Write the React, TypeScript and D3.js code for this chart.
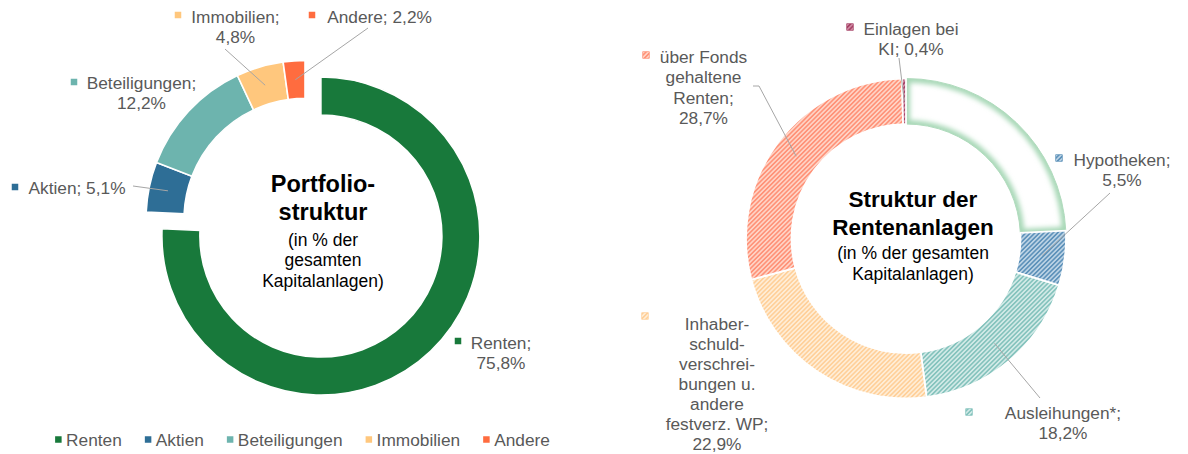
import React, { useMemo } from 'react';
import * as d3 from 'd3';

// ---------- DATA ----------
const portfolioCategories = ['Renten', 'Aktien', 'Beteiligungen', 'Immobilien', 'Andere'];
const portfolioValues = [75.8, 5.1, 12.2, 4.8, 2.2];
const portfolioColors = ['#18793B', '#2E6E96', '#6DB4AE', '#FFC77D', '#FF6C3F'];
const portfolioLabelLines = [['Renten;'], ['Aktien;'], ['Beteiligungen;'], ['Immobilien;'], ['Andere;']];
const portfolioPctInline = [false, true, false, false, true];

const rentenCategories = ['Hypotheken', 'Ausleihungen*', 'Inhaberschuldverschreibungen u. andere festverz. WP', 'über Fonds gehaltene Renten', 'Einlagen bei KI'];
const rentenValues = [5.5, 18.2, 22.9, 28.7, 0.4];
const rentenLine = ['#4480AE', '#6FB8B2', '#FFC889', '#FF8062', '#9B2D55'];
const rentenBg = ['#BCD3E5', '#D2EAE7', '#FFEDD6', '#FFD3C5', '#CF8AA2'];
const rentenLabelLines = [
  ['Hypotheken;'],
  ['Ausleihungen*;'],
  ['Inhaber-', 'schuld-', 'verschrei-', 'bungen u.', 'andere', 'festverz. WP;'],
  ['über Fonds', 'gehaltene', 'Renten;'],
  ['Einlagen bei', 'KI;'],
];
const rentenPctInline = [false, false, false, false, true];

const legendItems = portfolioCategories;

// ---------- LAYOUT ----------
const W = 1188, H = 454;
const FONT = '"Liberation Sans", Arial, Helvetica, sans-serif';
const LS = 17.3;
const LH = 20.3;
const GRAY = '#595959';
const LEADER = '#A6A6A6';
const MK = 6.5;

const LEFT = { cx: 305, cy: 219.4, r: 159, ir: 121, explode: [23, 0, 0, 0, 0] };
const RIGHT = { cx: 906, cy: 238.5, r: 160, ir: 114.5 };

// label layout: text center x, first line center y, line height, marker center, leader start points
const leftLabelLayout = [
  { x: 501, y: 343, lh: LH, m: [458, 341], lead: null },
  { x: 77, y: 188, lh: LH, m: [15, 187], lead: [[133, 186]] },
  { x: 141.5, y: 83, lh: LH, m: [74, 82], lead: null },
  { x: 235.5, y: 17, lh: LH, m: [178, 15], lead: [[225, 49]] },
  { x: 379.5, y: 17, lh: LH, m: [312, 15], lead: [[368, 28]] },
];
const rightLabelLayout = [
  { x: 1122, y: 160, lh: LH, m: [1059, 158], lead: [[1110, 193]] },
  { x: 1063, y: 413, lh: LH, m: [969, 412], lead: [[1040, 398]] },
  { x: 717, y: 324, lh: 20, m: [645, 316], lead: null },
  { x: 703.5, y: 57, lh: LH, m: [646, 55], lead: [[753, 86], [759, 86]] },
  { x: 911, y: 29, lh: LH, m: [850, 27], lead: [[899, 58]] },
];

const fmtPct = (v: number) => d3.format('.1f')(v).replace('.', ',') + '%';

function measure(text: string, size: number) {
  if (typeof document === 'undefined') return text.length * size * 0.5;
  const c = (measure as any)._c || ((measure as any)._c = document.createElement('canvas'));
  const ctx = c.getContext('2d');
  ctx.font = `${size}px "Liberation Sans", Arial, sans-serif`;
  return ctx.measureText(text).width;
}

function buildLines(nameLines: string[], inline: boolean, v: number) {
  const pct = fmtPct(v);
  if (inline) {
    const l = nameLines.slice();
    l[l.length - 1] = l[l.length - 1] + ' ' + pct;
    return l;
  }
  return [...nameLines, pct];
}

function Label({ lines, x, y, lh }: { lines: string[]; x: number; y: number; lh: number }) {
  return (
    <text x={x} y={y} textAnchor="middle" fontFamily={FONT} fontSize={LS} fill={GRAY}>
      {lines.map((t, i) => (
        <tspan key={i} x={x} y={y + i * lh} dy="0.35em">{t}</tspan>
      ))}
    </text>
  );
}

export default function App() {
  const leftPie = useMemo(() => d3.pie<number>().sort(null).value((d) => d)(portfolioValues), []);
  const leftArc = d3.arc<any>().innerRadius(LEFT.ir).outerRadius(LEFT.r);

  const restValue = +(100 - portfolioValues[0]).toFixed(1);
  const rightData = [restValue, ...rentenValues];
  const rightPie = useMemo(() => d3.pie<number>().sort(null).value((d) => d)(rightData), []);
  const rightArc = d3.arc<any>().innerRadius(RIGHT.ir).outerRadius(RIGHT.r);

  const offset = (a: any, e: number) => {
    const mid = (a.startAngle + a.endAngle) / 2;
    return [Math.sin(mid) * e, -Math.cos(mid) * e];
  };

  // legend layout
  const legendGapMk = 4.5, legendGapItem = 23;
  const legendWidths = legendItems.map((t) => measure(t, LS));
  const legendTotal = legendWidths.reduce((s, w) => s + MK + legendGapMk + w, 0) + legendGapItem * (legendItems.length - 1);
  let lx = 302.5 - legendTotal / 2;
  const legendPos = legendWidths.map((w) => {
    const p = lx;
    lx += MK + legendGapMk + w + legendGapItem;
    return p;
  });

  const restArcPath = rightArc(rightPie[0]) as string;

  return (
    <svg width={W} height={H} style={{ position: 'absolute', left: 0, top: 0, background: '#fff' }}>
      <defs>
        {rentenValues.map((_, i) => (
          <pattern key={i} id={`hatch${i}`} width={3.2} height={3.2} patternUnits="userSpaceOnUse" patternTransform="rotate(45)">
            <rect width={3.2} height={3.2} fill={rentenBg[i]} />
            <line x1={0.8} y1={0} x2={0.8} y2={3.2} stroke={rentenLine[i]} strokeWidth={1.25} />
          </pattern>
        ))}
        <clipPath id="restClip">
          <path d={restArcPath} transform={`translate(${RIGHT.cx},${RIGHT.cy})`} />
        </clipPath>
        <filter id="glowBlur" x="-20%" y="-20%" width="140%" height="140%">
          <feGaussianBlur stdDeviation={2.6} />
        </filter>
      </defs>

      {/* ---------- LEFT DONUT ---------- */}
      <g>
        {leftPie.map((a, i) => {
          const [dx, dy] = offset(a, LEFT.explode[i]);
          return (
            <path
              key={i}
              d={leftArc(a) as string}
              transform={`translate(${LEFT.cx + dx},${LEFT.cy + dy})`}
              fill={portfolioColors[i]}
              stroke="#fff"
              strokeWidth={1.6}
            />
          );
        })}
        {leftPie.map((a, i) => {
          const L = leftLabelLayout[i];
          if (!L.lead) return null;
          const [dx, dy] = offset(a, LEFT.explode[i]);
          const c = leftArc.centroid(a);
          const pts = [...L.lead, [LEFT.cx + dx + c[0], LEFT.cy + dy + c[1]]];
          return <polyline key={i} points={pts.map((p) => p.join(',')).join(' ')} fill="none" stroke={LEADER} strokeWidth={1} />;
        })}
        {leftPie.map((a, i) => {
          const L = leftLabelLayout[i];
          const lines = buildLines(portfolioLabelLines[i], portfolioPctInline[i], portfolioValues[i]);
          return (
            <g key={i}>
              <rect x={L.m[0] - MK / 2} y={L.m[1] - MK / 2} width={MK} height={MK} fill={portfolioColors[i]} />
              <Label lines={lines} x={L.x} y={L.y} lh={L.lh} />
            </g>
          );
        })}
        <text textAnchor="middle" fontFamily={FONT} fill="#000">
          <tspan x={323} y={183.5} dy="0.35em" fontSize={23.5} fontWeight="bold">Portfolio-</tspan>
          <tspan x={323} y={211.5} dy="0.35em" fontSize={23.5} fontWeight="bold">struktur</tspan>
          <tspan x={323} y={240} dy="0.35em" fontSize={17.5}>(in % der</tspan>
          <tspan x={323} y={260} dy="0.35em" fontSize={17.5}>gesamten</tspan>
          <tspan x={323} y={281} dy="0.35em" fontSize={17.5}>Kapitalanlagen)</tspan>
        </text>
      </g>

      {/* ---------- LEGEND ---------- */}
      <g>
        {legendItems.map((t, i) => (
          <g key={t}>
            <rect x={legendPos[i]} y={440 - MK / 2 - 0.5} width={MK} height={MK} fill={portfolioColors[i]} />
            <text x={legendPos[i] + MK + legendGapMk} y={440} dy="0.35em" fontFamily={FONT} fontSize={LS} fill={GRAY}>{t}</text>
          </g>
        ))}
      </g>

      {/* ---------- RIGHT DONUT ---------- */}
      <g>
        {/* rest (non-Renten) segment: white with green inner glow */}
        <path d={restArcPath} transform={`translate(${RIGHT.cx},${RIGHT.cy})`} fill="#fff" />
        <g clipPath="url(#restClip)">
          <path d={restArcPath} transform={`translate(${RIGHT.cx},${RIGHT.cy})`} fill="none" stroke="#A6D7B5" strokeWidth={8} filter="url(#glowBlur)" />
        </g>
        <path d={restArcPath} transform={`translate(${RIGHT.cx},${RIGHT.cy})`} fill="none" stroke="#B0DBBD" strokeWidth={1} />

        {rightPie.slice(1).map((a, i) => (
          <path
            key={i}
            d={rightArc(a) as string}
            transform={`translate(${RIGHT.cx},${RIGHT.cy})`}
            fill={`url(#hatch${i})`}
            stroke="#fff"
            strokeWidth={1.8}
          />
        ))}
        {rightPie.slice(1).map((a, i) => {
          const L = rightLabelLayout[i];
          if (!L.lead) return null;
          const c = rightArc.centroid(a);
          const pts = [...L.lead, [RIGHT.cx + c[0], RIGHT.cy + c[1]]];
          return <polyline key={i} points={pts.map((p) => p.join(',')).join(' ')} fill="none" stroke={LEADER} strokeWidth={1} />;
        })}
        {rentenValues.map((v, i) => {
          const L = rightLabelLayout[i];
          const lines = buildLines(rentenLabelLines[i], rentenPctInline[i], v);
          return (
            <g key={i}>
              <rect x={L.m[0] - MK / 2} y={L.m[1] - MK / 2} width={MK} height={MK} fill={`url(#hatch${i})`} stroke={rentenLine[i]} strokeWidth={0.6} />
              <Label lines={lines} x={L.x} y={L.y} lh={L.lh} />
            </g>
          );
        })}
        <text textAnchor="middle" fontFamily={FONT} fill="#000">
          <tspan x={913} y={199.5} dy="0.35em" fontSize={22.5} fontWeight="bold">Struktur der</tspan>
          <tspan x={913} y={227.5} dy="0.35em" fontSize={22.5} fontWeight="bold">Rentenanlagen</tspan>
          <tspan x={913} y={253} dy="0.35em" fontSize={17.5}>(in % der gesamten</tspan>
          <tspan x={913} y={274} dy="0.35em" fontSize={17.5}>Kapitalanlagen)</tspan>
        </text>
      </g>
    </svg>
  );
}
